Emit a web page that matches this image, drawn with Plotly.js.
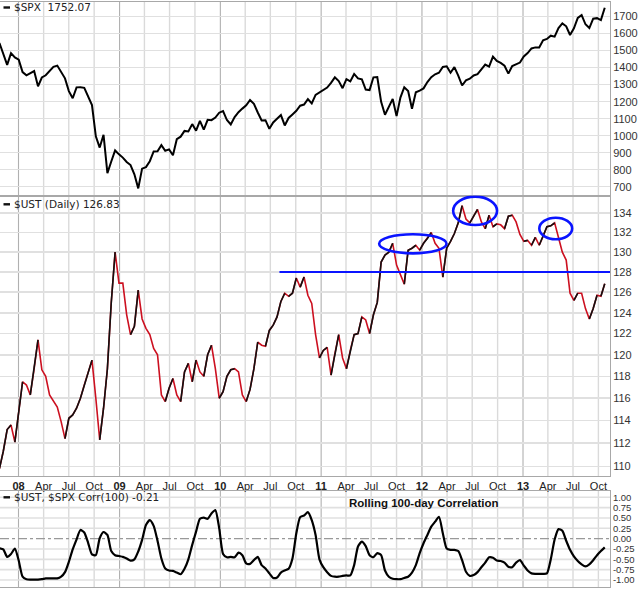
<!DOCTYPE html>
<html><head><meta charset="utf-8">
<script src="https://cdn.plot.ly/plotly-3.0.1.min.js"></script>
<style>html,body{margin:0;padding:0;background:#fff}#chart{width:640px;height:590px}</style>
</head><body><div id="chart"></div>
<script>
const startDate = '2007-10-24';
const endDate = '2013-10-24';

const spx = [1545,1475,1416,1485,1460,1447,1374,1355,1367,1380,
1290,1342,1355,1380,1405,1412,1377,1337,1262,1220,
1284,1285,1281,1232,1180,996,930,1005,780,848,
913,890,871,845,827,773,690,806,815,850,
907,908,944,911,919,885,979,994,1028,1025,
1068,1029,1087,1036,1093,1091,1106,1135,1145,1092,
1066,1109,1138,1159,1178,1210,1187,1136,1089,1091,
1040,1078,1102,1121,1060,1104,1125,1146,1176,1183,
1215,1189,1240,1256,1271,1283,1310,1343,1321,1279,
1332,1319,1363,1337,1331,1271,1268,1343,1345,1199,
1123,1174,1216,1115,1224,1285,1263,1158,1255,1265,
1278,1315,1344,1361,1370,1404,1408,1370,1403,1353,
1295,1325,1335,1354,1362,1390,1418,1406,1465,1440,
1428,1411,1365,1409,1418,1430,1466,1486,1513,1519,
1518,1561,1569,1588,1582,1633,1660,1643,1592,1631,
1692,1709,1655,1633,1688,1691,1680,1752.07];

const ust = [109.8,111.3,113.2,113.6,112.1,114.8,117.5,117.2,116.3,118.7,
121.4,118.6,118.0,116.3,115.8,115.2,113.9,112.4,114.2,114.5,
115.1,116.0,117.2,118.4,119.5,116.0,112.3,115.1,118.7,125.0,
130.0,126.9,126.9,123.8,121.9,122.7,126.2,123.4,122.5,121.9,
120.6,120.0,116.3,115.7,116.9,117.8,116.3,115.7,118.4,119.2,
117.5,119.5,118.4,118.0,120.0,120.9,118.7,116.0,116.6,118.0,
118.6,118.7,118.4,116.3,115.7,116.8,118.7,121.2,120.9,120.8,
122.3,122.8,123.6,125.1,125.9,125.6,125.9,127.4,126.5,127.5,
125.7,124.9,121.9,119.7,120.4,120.7,118.1,120.1,121.9,119.7,
118.7,120.4,121.9,122.0,123.6,123.3,122.0,123.8,125.0,129.0,
129.7,130.0,130.9,128.7,127.7,126.8,130.2,130.4,130.7,130.2,
130.9,131.4,132.0,130.9,130.4,127.5,130.4,131.1,131.9,133.0,
134.8,133.4,133.0,133.7,134.4,133.1,132.4,133.8,132.6,132.9,
132.8,132.4,133.7,133.8,133.1,131.8,131.1,131.2,130.7,131.5,
130.7,131.6,132.6,132.7,133.0,131.5,130.0,129.2,125.9,125.2,
125.9,125.9,124.4,123.4,124.4,125.7,125.6,126.83];

const corr = [-0.23,-0.26,-0.44,-0.37,-0.24,-0.53,-0.92,-0.98,-0.99,-0.99,
-0.99,-0.98,-0.96,-0.96,-0.96,-0.96,-0.92,-0.81,-0.56,-0.26,
-0.02,0.21,0.15,-0.10,-0.38,-0.40,0.01,0.16,0.09,-0.30,
-0.40,-0.42,-0.44,-0.48,-0.53,-0.50,-0.31,-0.03,0.33,0.45,
0.31,-0.05,-0.48,-0.72,-0.77,-0.78,-0.82,-0.86,-0.73,-0.50,
-0.15,0.17,0.48,0.51,0.48,0.61,0.69,0.25,-0.37,-0.45,
-0.44,-0.45,-0.34,-0.40,-0.60,-0.61,-0.52,-0.44,-0.64,-0.72,
-0.84,-0.95,-0.94,-0.82,-0.77,-0.73,-0.48,0.13,0.52,0.56,
0.64,0.45,0.09,-0.50,-0.69,-0.81,-0.90,-0.92,-0.92,-0.90,
-0.89,-0.89,-0.64,-0.19,-0.07,-0.18,-0.40,-0.45,-0.35,-0.40,
-0.77,-0.92,-0.97,-0.98,-0.98,-0.95,-0.92,-0.82,-0.64,-0.35,
-0.11,0.09,0.29,0.41,0.53,0.13,-0.24,-0.27,-0.27,-0.30,
-0.52,-0.80,-0.90,-0.88,-0.81,-0.69,-0.58,-0.45,-0.46,-0.53,
-0.54,-0.58,-0.68,-0.69,-0.58,-0.52,-0.65,-0.77,-0.84,-0.85,
-0.85,-0.85,-0.84,-0.50,-0.02,0.23,0.19,-0.05,-0.27,-0.43,
-0.54,-0.62,-0.67,-0.62,-0.52,-0.40,-0.30,-0.21];

const spxTicks = [700,800,900,1000,1100,1200,1300,1400,1500,1600,1700];
const ustTicks = [110,112,114,116,118,120,122,124,126,128,130,132,134];
const corrTicks = [-1,-0.75,-0.5,-0.25,0,0.25,0.5,0.75,1];
const corrTickText = ['-1.00','-0.75','-0.50','-0.25','0.00','0.25','0.50','0.75','1.00'];
const yearLabels = ['08','09','10','11','12','13'];
const monthLabels = ['Apr','Jul','Oct'];
const supportLevel = 128;
const supportStart = '2010-08-03';
const ellipses = [
  {x0:'2011-07-30', x1:'2012-03-30', y0:129.88, y1:131.82},
  {x0:'2012-04-23', x1:'2012-09-29', y0:132.78, y1:135.75},
  {x0:'2013-03-01', x1:'2013-06-28', y0:131.31, y1:133.54}
];
const xRange = ['2007-10-26','2013-11-12'];

// ---- build ----
const quarterTicks = [], quarterLabels = [], yearTicks = [];
yearLabels.forEach((yy,k)=>{
  const y = 2008+k;
  yearTicks.push(y+'-01-01');
  quarterTicks.push(y+'-01-01', y+'-04-01', y+'-07-01', y+'-10-01');
  quarterLabels.push('<b>'+yy+'</b>', ...monthLabels);
});
const n = spx.length;
const t0 = Date.parse(startDate+'T00:00:00Z'), t1 = Date.parse(endDate+'T00:00:00Z');
const dates = [];
for (let i=0;i<n;i++){
  const t = t0 + (t1-t0)*i/(n-1);
  dates.push(new Date(t).toISOString().slice(0,19).replace('T',' '));
}
// black segments where the price rises
const bx=[], by=[];
for (let i=0;i<n-1;i++){
  if (ust[i+1] > ust[i]) {
    if (i===0 || !(ust[i] > ust[i-1])) {
      if (bx.length){ bx.push(null); by.push(null); }
      bx.push(dates[i]); by.push(ust[i]);
    }
    bx.push(dates[i+1]); by.push(ust[i+1]);
  }
}

const RED = '#cc1020';
const traces = [
  {x:dates, y:spx, xaxis:'x', yaxis:'y', type:'scatter', mode:'lines', line:{color:'#000', width:2}},
  {x:dates, y:ust, xaxis:'x2', yaxis:'y2', type:'scatter', mode:'lines', line:{color:RED, width:1.6}},
  {x:bx, y:by, xaxis:'x2', yaxis:'y2', type:'scatter', mode:'lines', connectgaps:false, line:{color:'#111', width:1.6}},
  {x:dates, y:corr, xaxis:'x3', yaxis:'y3', type:'scatter', mode:'lines', line:{color:'#000', width:2.2, shape:'spline', smoothing:0.6}}
];

const W = 610, H = 585, TOP = 2;
const px2p = px => px/W;
const py2p = py => 1 - (py-TOP)/H;

const gridC = '#e0e0e0', frameC = '#a8a8a8';
const tickFontFamily = 'Liberation Sans, Arial, sans-serif';
function xax(anchor, labels){
  return {anchor:anchor, type:'date', range:xRange, tickmode:'array', tickvals:quarterTicks,
    ticktext:quarterLabels, showticklabels:labels, tickangle:0, ticks:'',
    tickfont:{family:tickFontFamily, size:11, color:'#222'},
    showgrid:false, zeroline:false,
    showline:true, mirror:true, linecolor:frameC, linewidth:1, fixedrange:true};
}
function yax(domain, extra){
  return Object.assign({domain:domain, side:'right', ticks:'', showgrid:true, gridcolor:gridC,
    gridwidth:1.6, zeroline:false, showline:true, mirror:true, linecolor:frameC, linewidth:1,
    tickfont:{family:tickFontFamily, size:11, color:'#333'}, fixedrange:true}, extra);
}

const shapes = [];
// vertical grid: quarter lines light, year lines darker (under horizontal grid)
[['x','y'],['x2','y2'],['x3','y3']].forEach(([xa,ya])=>{
  quarterTicks.forEach(d=>{
    const isYear = yearTicks.includes(d);
    shapes.push({type:'line', xref:xa, yref:ya+' domain', x0:d, x1:d, y0:0, y1:1,
      line:{color: isYear ? '#b0b0b0' : '#dadada', width: isYear ? 1.1 : 1.4}, layer:'below'});
  });
});
// horizontal grid of correlation panel (drawn as shapes so the zero line stays visible)
corrTicks.forEach(v=>{
  if (v === 0) return;
  shapes.push({type:'line', xref:'x3 domain', yref:'y3', x0:0, x1:1, y0:v, y1:v,
    line:{color:gridC, width:1.6}, layer:'below'});
});
shapes.push({type:'line', xref:'x3 domain', yref:'y3', x0:0, x1:1, y0:0, y1:0,
  line:{color:'#999', width:1.3, dash:'dashdot'}, layer:'below'});
// support line and ellipses
shapes.push({type:'line', xref:'x2', yref:'y2', x0:supportStart, x1:xRange[1],
  y0:supportLevel, y1:supportLevel, line:{color:'#0a14ff', width:2}});
ellipses.forEach(e=>shapes.push({type:'circle', xref:'x2', yref:'y2', x0:e.x0, x1:e.x1,
  y0:e.y0, y1:e.y1, line:{color:'#0a14ff', width:2.6}}));
// legend dashes
[7.5, 204.3, 497.3].forEach(py=>shapes.push({type:'line', xref:'paper', yref:'paper',
  x0:px2p(3.5), x1:px2p(10), y0:py2p(py), y1:py2p(py), line:{color:'#111', width:2.4}}));

const legFont = {family:'DejaVu Sans, Verdana, sans-serif', size:10.5, color:'#222'};
const annotations = [
  {text:'$SPX  1752.07', py:7.5},
  {text:'$UST (Daily) 126.83', py:204.3},
  {text:'$UST, $SPX Corr(100) -0.21', py:497.3}
].map(a=>({xref:'paper', yref:'paper', x:px2p(13), y:py2p(a.py), xanchor:'left', yanchor:'middle',
  text:a.text, showarrow:false, font:legFont, borderpad:0}));
annotations.push({xref:'paper', yref:'paper', x:px2p(424), y:py2p(502.7), xanchor:'center', yanchor:'middle',
  text:'<b>Rolling 100-day Correlation</b>', showarrow:false,
  font:{family:tickFontFamily, size:11.5, color:'#111'}});

const layout = {
  width:640, height:590, margin:{l:0, r:30, t:TOP, b:3, pad:0},
  paper_bgcolor:'#fff', plot_bgcolor:'#fff', showlegend:false, hovermode:false,
  font:{family:tickFontFamily, size:11, color:'#222'},
  xaxis: xax('y', false),
  xaxis2: xax('y2', true),
  xaxis3: xax('y3', false),
  yaxis: yax([0.6692,1], {range:[648,1786], tickmode:'array', tickvals:spxTicks}),
  yaxis2: yax([0.1897,0.6692], {type:'log', range:[Math.log10(109.17), Math.log10(135.87)],
    tickmode:'array', tickvals:ustTicks, ticktext:ustTicks.map(String)}),
  yaxis3: yax([0,0.1641], {range:[-1.169,1.152], tickmode:'array', tickvals:corrTicks, ticktext:corrTickText,
    showgrid:false, tickfont:{family:tickFontFamily, size:9.5, color:'#333'}}),
  shapes:shapes, annotations:annotations
};
Plotly.newPlot('chart', traces, layout, {staticPlot:true, displayModeBar:false});
</script></body></html>
